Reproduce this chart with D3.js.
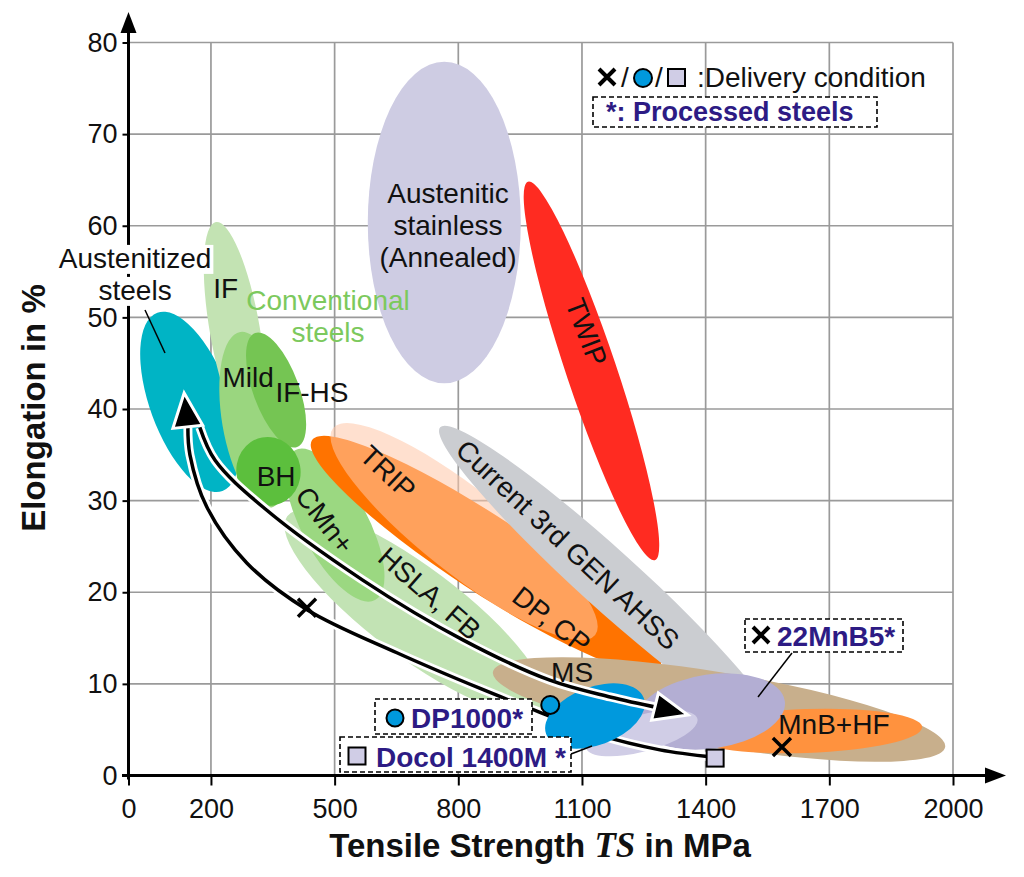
<!DOCTYPE html>
<html><head><meta charset="utf-8">
<script src="https://cdnjs.cloudflare.com/ajax/libs/d3/7.8.5/d3.min.js"></script>
<style>body{margin:0;background:#fff}</style>
</head><body>
<svg id="c" width="1024" height="877"></svg>
<script>
// ---------- data ----------
const xTicks = [0, 200, 500, 800, 1100, 1400, 1700, 2000];
const yTicks = [0, 10, 20, 30, 40, 50, 60, 70, 80];

// steel property regions (drawing order). Each region: major-axis tips in (TS MPa, El %), half-spread in El-% units
const regionNames = ["Austenitic stainless", "TWIP", "HSLA, FB", "CMn+", "Austenitized steels", "IF", "Mild", "IF-HS", "BH",
  "DP, CP", "TRIP", "Current 3rd GEN AHSS", "MS", "MnB+HF", "22MnB5", "Docol 1400M", "DP1000"];
const regionFrom = [[766, 77.9], [969, 64.8], [385, 28.3], [404, 35.5], [70, 50.5], [212, 60.4], [271, 48.4], [307, 48.3], [324, 36.9],
  [445, 36.6], [496, 37.9], [756, 38.0], [884, 11.3], [1362, 4.42], [1233, 5.84], [1110, 3.0], [1013, 4.53]];
const regionTo = [[766, 42.8], [1277, 23.5], [1005, 7.37], [598, 19.15], [228, 31.05], [304, 36.8], [343, 29.2], [409, 35.85], [355, 29.5],
  [1289, 11.73], [1132, 15.33], [1568, 4.97], [1981, 3.11], [1925, 5.29], [1592, 8.13], [1380, 6.2], [1250, 8.46]];
const regionSpread = [8.35, 2.73, 4.9, 3.6, 4.37, 2.73, 3.6, 2.5, 3.5, 4.15, 4.58, 3.2, 4.04, 2.4, 4.04, 2.0, 3.17];

// region labels: text, TS, El, rotation
const labelText = ["IF", "Mild", "IF-HS", "BH", "CMn+", "HSLA, FB", "TRIP", "DP, CP", "Current 3rd GEN AHSS", "TWIP", "MS", "MnB+HF"];
const labelTS = [236, 290, 445, 358, 477, 731, 630, 1027, 1066, 1112, 1076, 1711];
const labelEl = [53.2, 43.5, 41.9, 32.7, 27.9, 19.9, 33.1, 17.0, 25.2, 48.4, 11.3, 5.6];
const labelAngle = [0, 0, 0, 0, 52, 41, 43, 38, 43, 69, 0, 0];

// process paths (TS, El)
const heatingPath = [[1420, 2.0], [1289, 2.8], [1144, 4.4], [998, 6.9], [853, 9.5], [651, 13.4], [433, 18.1], [287, 23.2], [190, 29.3], [149, 35.0], [144, 38.0]];
const heatingTip = [135, 41.75];
const quenchPath = [[173, 38.0], [210, 34.4], [326, 29.3], [569, 21.3], [811, 14.8], [1022, 10.4], [1168, 8.57], [1289, 7.37]];
const quenchTip = [1357, 6.6];

// delivery condition points
const crossPoints = [[433, 18.3], [1585, 3.1]];
const circlePoint = [1023, 7.7];
const squarePoint = [1423, 1.9];

// ---------- styles ----------
const fills = {
  "Austenitic stainless": "#cecce3", "TWIP": "#ff2b21", "HSLA, FB": "#c2e3b4", "CMn+": "#9bd881",
  "Austenitized steels": "#00b4c5", "IF": "#c3e3b3", "Mild": "#9ad67f", "IF-HS": "#75c553", "BH": "#5cbf3d",
  "DP, CP": "#ff7300", "TRIP": "rgb(255,198,167)", "Current 3rd GEN AHSS": "#cbcdd1", "MS": "#c8af8c",
  "MnB+HF": "#ff923e", "22MnB5": "#b3aed3", "Docol 1400M": "#d0cde6", "DP1000": "#0099dd"
};
const opac = { "TRIP": 0.55 };
const NAVY = "#2d1b84";
const FONT = "'Liberation Sans', Arial, Helvetica, sans-serif";

// ---------- scales ----------
const svg = d3.select("#c");
const x = d3.scaleLinear().domain([0, 2000]).range([128.5, 953]);
const y = d3.scaleLinear().domain([0, 80]).range([775.5, 42.5]);
const pxPerEl = y(0) - y(1);

// grid
const grid = svg.append("g").attr("stroke", "#9a9a9a").attr("stroke-width", 1.7);
grid.selectAll(".gv").data(xTicks.filter(d => d > 0)).join("line")
  .attr("x1", d => x(d)).attr("x2", d => x(d)).attr("y1", y(0)).attr("y2", y(80));
grid.selectAll(".gh").data(yTicks.filter(d => d > 0)).join("line")
  .attr("y1", d => y(d)).attr("y2", d => y(d)).attr("x1", x(0)).attr("x2", x(2000));

// regions
const layer = svg.append("g");
const lowerPathLayer = svg.append("g");
const topLayer = svg.append("g");
function drawRegion(g, i) {
  const p0 = [x(regionFrom[i][0]), y(regionFrom[i][1])];
  const p1 = [x(regionTo[i][0]), y(regionTo[i][1])];
  const cx = (p0[0] + p1[0]) / 2, cy = (p0[1] + p1[1]) / 2;
  const a = Math.hypot(p1[0] - p0[0], p1[1] - p0[1]) / 2;
  const ang = Math.atan2(p1[1] - p0[1], p1[0] - p0[0]) * 180 / Math.PI;
  const name = regionNames[i];
  g.append("ellipse").attr("cx", cx).attr("cy", cy).attr("rx", a).attr("ry", regionSpread[i] * pxPerEl)
    .attr("transform", `rotate(${ang},${cx},${cy})`)
    .attr("fill", fills[name]).attr("fill-opacity", opac[name] || 1);
}
regionNames.forEach((n, i) => { if (n !== "DP1000") drawRegion(layer, i); });

// arrows
const line = d3.line().x(d => x(d[0])).y(d => y(d[1])).curve(d3.curveCatmullRom.alpha(0.5));
function arrowHead(g, from, tip, L, Wd) {
  const fx = x(from[0]), fy = y(from[1]), tx = x(tip[0]), ty = y(tip[1]);
  const dx = tx - fx, dy = ty - fy, len = Math.hypot(dx, dy);
  const ux = dx / len, uy = dy / len;
  const bx = tx - L * ux, by = ty - L * uy;
  const pts = [[tx, ty], [bx - Wd * uy, by + Wd * ux], [bx + Wd * uy, by - Wd * ux]];
  g.append("path").attr("d", "M" + pts.map(p => p.join(",")).join("L") + "Z")
    .attr("fill", "#000").attr("stroke", "#fff").attr("stroke-width", 3).attr("stroke-linejoin", "miter");
}
function drawPath(g, pts) {
  g.append("path").attr("d", line(pts)).attr("fill", "none").attr("stroke", "#fff").attr("stroke-width", 9);
  g.append("path").attr("d", line(pts)).attr("fill", "none").attr("stroke", "#000").attr("stroke-width", 3.5);
}
drawPath(lowerPathLayer, heatingPath);
drawRegion(lowerPathLayer, regionNames.indexOf("DP1000"));
drawPath(topLayer, quenchPath);
arrowHead(topLayer, heatingPath[heatingPath.length - 1], heatingTip, 34, 15);
arrowHead(topLayer, quenchPath[quenchPath.length - 1], quenchTip, 34, 14);

// markers
function cross(g, cx, cy, r, w) {
  g.append("path").attr("d", `M${cx - r},${cy - r}L${cx + r},${cy + r}M${cx - r},${cy + r}L${cx + r},${cy - r}`)
    .attr("stroke", "#000").attr("stroke-width", w).attr("fill", "none");
}
function circ(g, cx, cy, r) {
  g.append("circle").attr("cx", cx).attr("cy", cy).attr("r", r).attr("fill", fills["DP1000"]).attr("stroke", "#000").attr("stroke-width", 2);
}
function sq(g, cx, cy, s) {
  g.append("rect").attr("x", cx - s / 2).attr("y", cy - s / 2).attr("width", s).attr("height", s)
    .attr("fill", fills["Docol 1400M"]).attr("stroke", "#000").attr("stroke-width", 2);
}
crossPoints.forEach(p => cross(topLayer, x(p[0]), y(p[1]), 9, 3.5));
circ(topLayer, x(circlePoint[0]), y(circlePoint[1]), 9);
sq(topLayer, x(squarePoint[0]), y(squarePoint[1]), 17);

// region labels
const lab = svg.append("g").attr("font-family", FONT).attr("font-size", 28).attr("fill", "#111").attr("text-anchor", "middle");
labelText.forEach((t, i) => {
  const px = x(labelTS[i]), py = y(labelEl[i]);
  lab.append("text").attr("x", px).attr("y", py).attr("dy", "0.36em")
    .attr("transform", `rotate(${labelAngle[i]},${px},${py})`).text(t);
});
// Austenitic stainless block
const asX = x(775), asY = y(60.1);
["Austenitic", "stainless", "(Annealed)"].forEach((t, k) => {
  lab.append("text").attr("x", asX).attr("y", asY + (k - 1) * 32).attr("dy", "0.36em").text(t);
});
// Conventional steels (green)
["Conventional", "steels"].forEach((t, k) => {
  lab.append("text").attr("x", x(484)).attr("y", y(51.9) + k * 32).attr("dy", "0.36em").attr("fill", "#7cc95d").text(t);
});
// Austenitized steels with white background
const ag = svg.append("g").attr("font-family", FONT).attr("font-size", 28).attr("text-anchor", "middle");
["Austenitized", "steels"].forEach((t, k) => {
  const tx = ag.append("text").attr("x", x(16)).attr("y", y(56.5) + k * 32).attr("dy", "0.36em").attr("fill", "#111").text(t);
  const bb = tx.node().getBBox();
  ag.insert("rect", "text").attr("x", bb.x - 2).attr("y", bb.y + 2).attr("width", bb.width + 4).attr("height", bb.height - 2).attr("fill", "#fff");
});
svg.append("line").attr("x1", 145).attr("y1", 310).attr("x2", 165).attr("y2", 353).attr("stroke", "#000").attr("stroke-width", 1.5);

// ---------- axes ----------
const ax = svg.append("g").attr("transform", `translate(0,${y(0)})`)
  .call(d3.axisBottom(x).tickValues(xTicks).tickSize(10).tickPadding(13).tickFormat(d3.format("d")));
const ay = svg.append("g").attr("transform", `translate(${x(0)},0)`)
  .call(d3.axisLeft(y).tickValues(yTicks).tickSize(6).tickPadding(5));
[ax, ay].forEach(g => {
  g.select(".domain").remove();
  g.selectAll(".tick line").attr("stroke", "#000").attr("stroke-width", 2);
  g.selectAll(".tick text").attr("font-family", FONT).attr("font-size", 27).attr("fill", "#111");
});
const axes = svg.append("g");
axes.append("line").attr("x1", 122).attr("x2", 990).attr("y1", y(0)).attr("y2", y(0)).attr("stroke", "#000").attr("stroke-width", 3);
axes.append("line").attr("x1", x(0)).attr("x2", x(0)).attr("y1", y(0) + 4).attr("y2", 30).attr("stroke", "#000").attr("stroke-width", 3);
axes.append("path").attr("d", `M1006,${y(0)}L985,${y(0) - 8}L985,${y(0) + 8}Z`).attr("fill", "#000");
axes.append("path").attr("d", `M${x(0)},12L${x(0) - 8},33L${x(0) + 8},33Z`).attr("fill", "#000");
// redraw the austenitized label over axis
ag.raise();

// axis titles
const xt = svg.append("text").attr("x", 540).attr("y", 857).attr("text-anchor", "middle")
  .attr("font-family", FONT).attr("font-weight", "bold").attr("font-size", 33).attr("fill", "#111");
xt.append("tspan").text("Tensile Strength ");
xt.append("tspan").attr("font-family", "'Liberation Serif', 'Times New Roman', serif").attr("font-style", "italic").attr("font-size", 35).text("TS");
xt.append("tspan").text(" in MPa");
svg.append("text").attr("transform", "translate(45,408) rotate(-90)").attr("text-anchor", "middle")
  .attr("font-family", FONT).attr("font-weight", "bold").attr("font-size", 33).attr("fill", "#111").text("Elongation in %");

// ---------- legend / annotations ----------
const lg = svg.append("g").attr("font-family", FONT);
cross(lg, 607, 77, 8, 4);
lg.append("text").attr("x", 621).attr("y", 87).attr("font-size", 28).attr("fill", "#111").text("/");
circ(lg, 643, 78, 9);
lg.append("text").attr("x", 655).attr("y", 87).attr("font-size", 28).attr("fill", "#111").text("/");
sq(lg, 676.5, 77.5, 17);
lg.append("text").attr("x", 697).attr("y", 87).attr("font-size", 28).attr("fill", "#111").text(":Delivery condition");

function dashedBox(g, x0, y0, x1, y1) {
  g.append("rect").attr("x", x0).attr("y", y0).attr("width", x1 - x0).attr("height", y1 - y0)
    .attr("fill", "#fff").attr("stroke", "#000").attr("stroke-width", 1.6).attr("stroke-dasharray", "5,3");
}
dashedBox(lg, 593, 97, 877, 127);
lg.append("text").attr("x", 606).attr("y", 121).attr("font-size", 27).attr("font-weight", "bold").attr("fill", NAVY).text("*: Processed steels");

// 22MnB5
svg.append("line").attr("x1", 792).attr("y1", 653).attr("x2", 758).attr("y2", 697).attr("stroke", "#000").attr("stroke-width", 1.5);
dashedBox(lg, 745, 619, 903, 652);
cross(lg, 761, 635, 8, 4);
lg.append("text").attr("x", 777).attr("y", 646).attr("font-size", 28).attr("font-weight", "bold").attr("fill", NAVY).text("22MnB5*");

// DP1000
dashedBox(lg, 375, 699, 532, 734);
circ(lg, 395, 718, 8.5);
lg.append("text").attr("x", 411).attr("y", 728).attr("font-size", 28).attr("font-weight", "bold").attr("fill", NAVY).text("DP1000*");

// Docol
svg.append("line").attr("x1", 571).attr("y1", 754).attr("x2", 592).attr("y2", 746).attr("stroke", "#000").attr("stroke-width", 1.5);
dashedBox(lg, 340, 737, 571, 772);
sq(lg, 357, 756, 17);
lg.append("text").attr("x", 376).attr("y", 767).attr("font-size", 28).attr("font-weight", "bold").attr("fill", NAVY).text("Docol 1400M *");
</script>
</body></html>
